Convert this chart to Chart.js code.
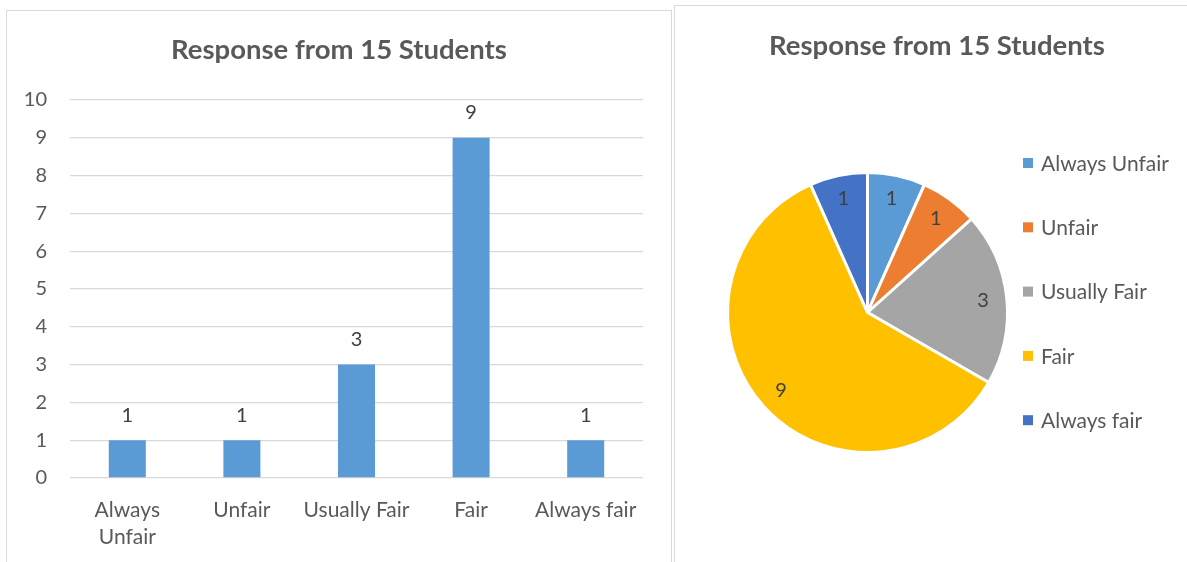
<!DOCTYPE html>
<html>
<head>
<meta charset="utf-8">
<script src="https://cdn.jsdelivr.net/npm/chart.js@4/dist/chart.umd.min.js"></script>
<style>
  html, body { margin: 0; padding: 0; background: #ffffff; }
  body { width: 1187px; height: 562px; position: relative; overflow: hidden; }
  .panel { position: absolute; border: 1.5px solid #D9D9D9; background: #fff; box-sizing: border-box; }
  #p1 { left: 6px; top: 10px; width: 666px; height: 570px; }
  #p2 { left: 674px; top: 5px; width: 530px; height: 580px; }
  .wrap { position: absolute; }
  #w1 { left: 8px; top: 12px; width: 662px; height: 550px; }
  #w2 { left: 676px; top: 7px; width: 511px; height: 555px; }
</style>
</head>
<body>
<div class="panel" id="p1"></div>
<div class="panel" id="p2"></div>
<div class="wrap" id="w1"><canvas id="bar"></canvas></div>
<div class="wrap" id="w2"><canvas id="pie"></canvas></div>
<script>
const chartTitle = 'Response from 15 Students';
const categories = [['Always', 'Unfair'], 'Unfair', 'Usually Fair', 'Fair', 'Always fair'];
const legendLabels = ['Always Unfair', 'Unfair', 'Usually Fair', 'Fair', 'Always fair'];
const responses = [1, 1, 3, 9, 1];
const yTicks = [0, 1, 2, 3, 4, 5, 6, 7, 8, 9, 10];
const barColor = '#5B9BD5';
const sliceColors = ['#5B9BD5', '#ED7D31', '#A5A5A5', '#FFC000', '#4472C4'];

const FONT = 'Lato, "Open Sans", sans-serif';
const TXT = '#595959';
const LBL = '#404040';
const GRID = '#D9D9D9';

// title drawn at a fixed spot of the canvas (cx, cy given through plugin options)
const fixedTitle = {
  id: 'fixedTitle',
  afterDraw(chart, args, opts) {
    const ctx = chart.ctx;
    ctx.save();
    ctx.font = 'bold 27.5px ' + FONT;
    ctx.fillStyle = TXT;
    ctx.textAlign = 'center';
    ctx.textBaseline = 'middle';
    ctx.fillText(opts.text, opts.cx, opts.cy);
    ctx.restore();
  }
};

const barLabels = {
  id: 'barLabels',
  afterDatasetsDraw(chart) {
    const ctx = chart.ctx;
    const meta = chart.getDatasetMeta(0);
    ctx.save();
    ctx.font = '20px ' + FONT;
    ctx.fillStyle = LBL;
    ctx.textAlign = 'center';
    ctx.textBaseline = 'middle';
    meta.data.forEach((el, i) => {
      ctx.fillText(String(chart.data.datasets[0].data[i]), el.x, el.y - 25);
    });
    ctx.restore();
  }
};

const pieExtras = {
  id: 'pieExtras',
  afterDatasetsDraw(chart) {
    const ctx = chart.ctx;
    const meta = chart.getDatasetMeta(0);
    const ds = chart.data.datasets[0];
    ctx.save();
    ctx.font = '20px ' + FONT;
    ctx.fillStyle = LBL;
    ctx.textAlign = 'center';
    ctx.textBaseline = 'middle';
    meta.data.forEach((arc, i) => {
      const mid = (arc.startAngle + arc.endAngle) / 2;
      const r = arc.outerRadius * 0.83;
      ctx.fillText(String(ds.data[i]), arc.x + Math.cos(mid) * r, arc.y + Math.sin(mid) * r);
    });
    // legend
    const lx = 347, ly0 = 156, step = 64.3;
    ctx.font = '21px ' + FONT;
    chart.data.labels.forEach((lab, i) => {
      const y = ly0 + i * step;
      ctx.fillStyle = ds.backgroundColor[i];
      ctx.fillRect(lx, y - 5, 10, 10);
      ctx.fillStyle = TXT;
      ctx.textAlign = 'left';
      ctx.fillText(lab, lx + 18, y + 1);
    });
    ctx.restore();
  }
};

new Chart(document.getElementById('bar'), {
  type: 'bar',
  data: {
    labels: categories,
    datasets: [{ data: responses, backgroundColor: barColor, barPercentage: 0.323, categoryPercentage: 1 }]
  },
  options: {
    responsive: true,
    maintainAspectRatio: false,
    animation: false,
    layout: { padding: { left: 0, right: 27, top: 88, bottom: 0 } },
    plugins: {
      legend: { display: false },
      tooltip: { enabled: false },
      title: { display: false },
      fixedTitle: { text: chartTitle, cx: 331, cy: 38 }
    },
    scales: {
      x: {
        grid: { display: false, drawTicks: false },
        border: { display: false },
        ticks: { color: TXT, font: { family: FONT, size: 21, lineHeight: 1.3 }, padding: 18.5, maxRotation: 0, autoSkip: false },
        afterFit(s) { s.height = 84; }
      },
      y: {
        min: 0, max: 10,
        afterBuildTicks(s) { s.ticks = yTicks.map(v => ({ value: v })); },
        grid: { color: GRID, lineWidth: 1.3, drawTicks: false },
        border: { display: false },
        ticks: { color: TXT, font: { family: FONT, size: 20 }, padding: 23 },
        afterFit(s) { s.width = 62; }
      }
    }
  },
  plugins: [barLabels, fixedTitle]
});

new Chart(document.getElementById('pie'), {
  type: 'pie',
  data: {
    labels: legendLabels,
    datasets: [{ data: responses, backgroundColor: sliceColors, borderColor: '#ffffff', borderWidth: 3 }]
  },
  options: {
    responsive: true,
    maintainAspectRatio: false,
    animation: false,
    layout: { padding: { left: 50, right: 178, top: 164, bottom: 108 } },
    plugins: {
      legend: { display: false },
      tooltip: { enabled: false },
      title: { display: false },
      fixedTitle: { text: chartTitle, cx: 261, cy: 39 }
    }
  },
  plugins: [pieExtras, fixedTitle]
});
</script>
</body>
</html>
